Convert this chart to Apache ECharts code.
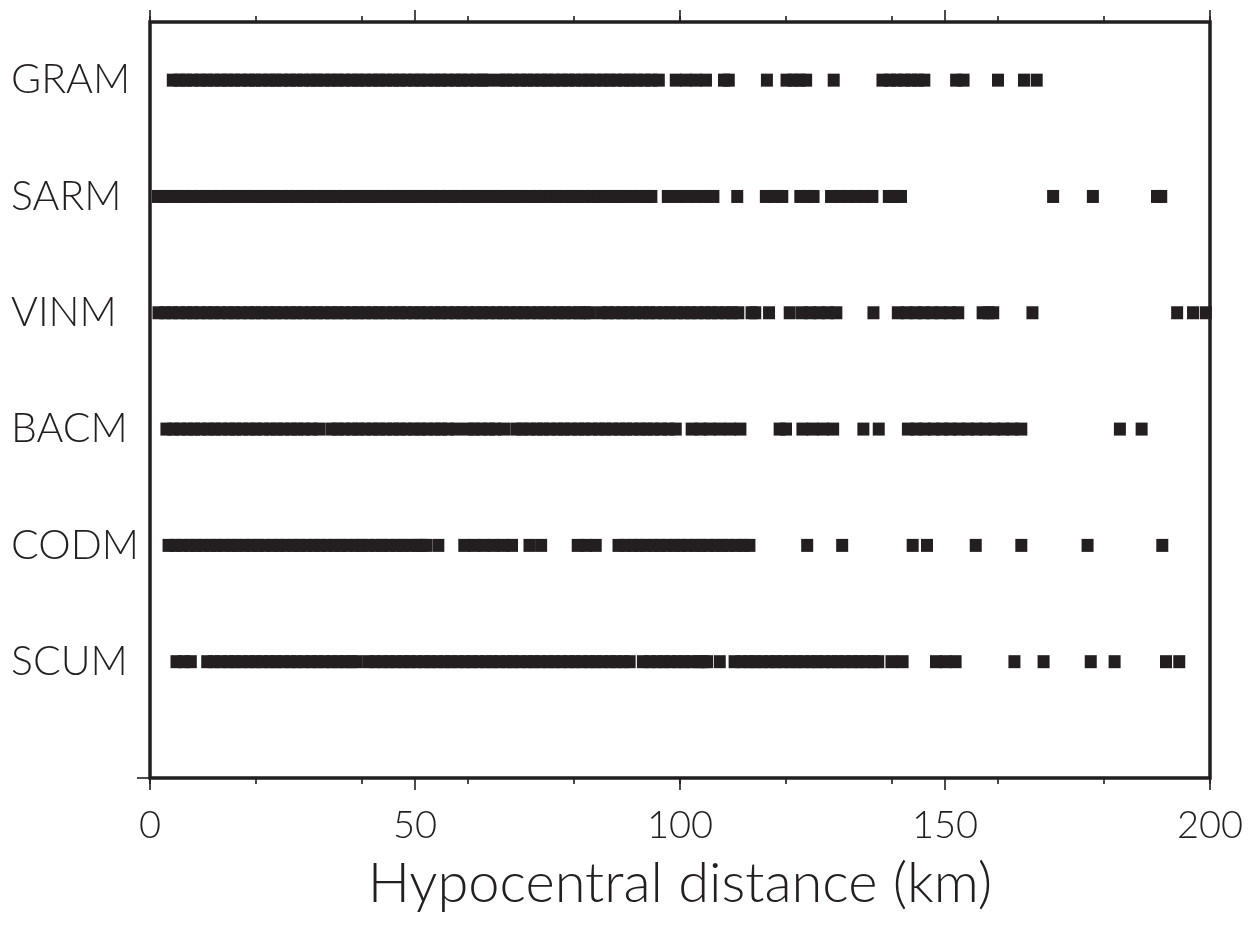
<!DOCTYPE html>
<html>
<head>
<meta charset="utf-8">
<title>Hypocentral distance by station</title>
<script src="https://cdn.jsdelivr.net/npm/echarts@6/dist/echarts.min.js"></script>
<style>
  html, body { margin: 0; padding: 0; background: #ffffff; }
  #chart { width: 1254px; height: 926px; }
</style>
</head>
<body>
<div id="chart"></div>
<script>
// Stations, listed top to bottom
const stations = ['GRAM', 'SARM', 'VINM', 'BACM', 'CODM', 'SCUM'];

// Hypocentral distances (km) of the recorded events, per station
const gramDist = [
  4.3, 5.6, 6.8, 8.1, 9.5, 10.7, 12.0, 13.4, 14.6, 15.9, 17.2, 18.6, 19.8, 21.1, 22.5, 23.7,
  25.0, 26.4, 27.6, 28.9, 30.3, 31.5, 32.8, 34.2, 35.4, 36.7, 38.1, 39.3, 40.6, 42.0, 43.2,
  44.5, 45.9, 47.1, 48.4, 49.8, 51.0, 52.3, 53.7, 54.9, 56.2, 57.6, 58.8, 60.1, 61.5, 62.7,
  63.8, 66.0, 67.2, 68.5, 69.9, 71.1, 72.4, 73.8, 75.0, 76.3, 77.7, 78.9, 80.2, 81.6, 82.8,
  84.1, 85.5, 86.7, 88.0, 89.4, 90.6, 91.9, 93.3, 94.6, 96.0,
  99.2, 101.1, 103.0, 104.9, 108.3, 109.2, 116.4, 120.1, 121.4, 122.6, 123.8, 129.0,
  138.2, 139.6, 140.9, 142.3, 143.6, 144.9, 146.1, 152.1, 153.5, 160.0, 164.9, 167.3
];
const sarmDist = [
  1.5, 2.7, 4.0, 5.4, 6.6, 7.9, 9.3, 10.5, 11.8, 13.2, 14.4, 15.7, 17.1, 18.3, 19.6, 21.0,
  22.2, 23.5, 24.9, 26.1, 27.4, 28.8, 30.0, 31.3, 32.7, 33.9, 35.2, 36.6, 37.8, 39.1, 40.5,
  41.7, 43.0, 44.4, 45.6, 46.9, 48.3, 49.5, 50.8, 52.2, 53.4, 54.7, 56.1, 57.3, 58.6, 60.0,
  61.2, 62.5, 63.9, 65.1, 66.4, 67.8, 69.0, 70.3, 71.7, 72.9, 74.2, 75.6, 76.8, 78.1, 79.5,
  80.7, 82.0, 83.4, 84.6, 85.9, 87.3, 88.5, 89.8, 91.2, 92.4, 93.6, 94.6,
  97.7, 99.5, 101.2, 103.0, 104.8, 106.3, 110.8, 116.2, 117.8, 119.3, 122.7, 124.0, 125.2,
  128.5, 130.1, 131.7, 133.2, 134.8, 136.3, 139.4, 140.6, 141.7, 170.4, 177.9, 190.0, 190.8
];
const vinmDist = [
  1.6, 2.9, 4.2, 5.5, 6.9, 8.1, 9.4, 10.8, 12.0, 13.3, 14.7, 15.9, 17.2, 18.6, 19.8, 21.1,
  22.5, 23.7, 25.0, 26.4, 27.6, 28.9, 30.3, 31.5, 32.8, 34.2, 35.4, 36.7, 38.1, 39.3, 40.6,
  42.0, 43.2, 44.5, 45.9, 47.1, 48.4, 49.8, 51.0, 52.3, 53.7, 54.9, 56.2, 57.6, 58.8, 60.1,
  61.5, 62.7, 64.0, 65.4, 66.6, 67.9, 69.3, 70.5, 71.8, 73.2, 74.4, 75.7, 77.1, 78.3, 79.6,
  81.0, 82.0, 83.0, 85.2, 86.4, 87.7, 89.1, 90.3, 91.6, 93.0, 94.2, 95.5, 96.9, 98.1, 99.4,
  100.8, 102.0, 103.3, 104.7, 105.9, 107.2, 108.6, 109.8, 111.0,
  113.5, 114.2, 116.8, 120.7, 123.0, 124.6, 126.2, 127.9, 129.5, 136.5,
  141.1, 142.8, 144.5, 146.0, 147.6, 149.2, 150.9, 152.5, 157.1, 158.2, 159.1, 166.5,
  193.8, 196.8, 199.2
];
const bacmDist = [
  3.1, 4.4, 5.7, 7.1, 8.3, 9.6, 11.0, 12.2, 13.5, 14.9, 16.1, 17.4, 18.8, 20.0, 21.3, 22.7,
  23.9, 25.2, 26.6, 27.8, 29.1, 30.5, 31.9, 34.2, 35.4, 36.7, 38.1, 39.3, 40.6, 42.0, 43.2,
  44.5, 45.9, 47.1, 48.4, 49.8, 51.0, 52.3, 53.7, 54.9, 56.2, 57.8, 60.0, 61.2, 62.5, 63.9,
  65.1, 66.8, 69.1, 70.3, 71.6, 73.0, 74.2, 75.5, 76.9, 78.1, 79.4, 80.8, 82.0, 83.3, 84.7,
  85.9, 87.2, 88.6, 89.8, 91.1, 92.5, 93.7, 95.0, 96.4, 97.8, 99.2,
  102.2, 103.9, 105.6, 107.5, 109.5, 111.4, 118.8, 120.0, 123.1, 125.0, 127.0, 128.9,
  134.6, 137.5, 143.0, 144.6, 146.2, 147.9, 149.5, 151.0, 152.6, 154.3, 156.0, 157.6,
  159.3, 161.0, 162.7, 164.4, 183.0, 187.1
];
const codmDist = [
  3.5, 4.8, 6.1, 7.5, 8.7, 10.0, 11.4, 12.6, 13.9, 15.3, 16.5, 17.8, 19.2, 20.4, 21.7, 23.1,
  24.3, 25.6, 27.0, 28.2, 29.5, 30.9, 32.1, 33.4, 34.8, 36.0, 37.3, 38.7, 39.9, 41.2, 42.6,
  43.8, 45.1, 46.5, 47.7, 49.0, 50.4, 51.3, 52.1,
  54.4, 59.3, 61.2, 63.0, 64.8, 66.6, 68.3, 71.6, 73.8, 80.7, 82.3, 84.1,
  88.4, 89.7, 91.1, 92.3, 93.6, 95.0, 96.2, 97.5, 98.9, 100.1, 101.4, 102.8, 104.0, 105.3,
  106.7, 107.9, 109.2, 110.6, 111.9, 113.1,
  124.0, 130.6, 143.9, 146.6, 155.8, 164.4, 176.9, 191.0
];
const scumDist = [
  5.0, 6.4, 7.7,
  10.8, 12.1, 13.4, 14.8, 16.0, 17.3, 18.7, 19.9, 21.2, 22.6, 23.8, 25.1, 26.5, 27.7, 29.0,
  30.4, 31.6, 32.9, 34.3, 35.5, 36.8, 37.9, 39.0, 41.2, 42.5, 43.9, 45.1, 46.4, 47.8, 49.0,
  50.3, 51.7, 52.9, 54.2, 55.6, 56.8, 58.1, 59.5, 60.7, 62.0, 63.4, 64.6, 65.9, 67.3, 68.5,
  69.8, 71.2, 72.4, 73.7, 75.1, 76.3, 77.6, 79.0, 80.2, 81.5, 82.9, 84.1, 85.4, 86.8, 88.0,
  89.3, 90.5,
  93.0, 94.3, 95.7, 96.9, 98.2, 99.6, 100.8, 102.1, 103.5, 104.3, 105.1, 107.5,
  110.3, 111.6, 113.0, 114.2, 115.5, 116.9, 118.1, 119.4, 120.8, 122.0, 123.3, 124.7, 125.9,
  127.2, 128.6, 129.8, 131.1, 132.5, 133.7, 135.0, 136.4, 137.4,
  139.9, 142.0, 148.3, 150.1, 152.0, 163.1, 168.6, 177.5, 182.0, 191.7, 194.2
];

// Axis ticks and labels
const xMajorTicks = [0, 50, 100, 150, 200];
const xMinorStep = 20;
const rowLevels = [1, 2, 3, 4, 5, 6];

const distances = {
  GRAM: gramDist, SARM: sarmDist, VINM: vinmDist,
  BACM: bacmDist, CODM: codmDist, SCUM: scumDist
};

const INK = '#231f20';
const FONT = 'Lato, "Liberation Sans", sans-serif';
const WEIGHT = 300;

// Station on row level n (bottom row is 1)
function stationAt(level) {
  return stations[stations.length - level];
}

const series = stations.map((name, i) => ({
  type: 'scatter',
  name: name,
  xAxisIndex: 0,
  yAxisIndex: 0,
  symbol: 'rect',
  symbolSize: [12, 13],
  itemStyle: { color: INK, opacity: 1 },
  emphasis: { disabled: true },
  silent: true,
  data: distances[name].map(d => [d, stations.length - i])
}));

function xAxisDef(position, step, tickLen, withLabels) {
  const ax = {
    type: 'value',
    position: position,
    min: xMajorTicks[0],
    max: xMajorTicks[xMajorTicks.length - 1],
    interval: step,
    axisLine: { show: false },
    splitLine: { show: false },
    axisTick: { show: true, length: tickLen, lineStyle: { color: INK, width: 1.6 } },
    axisLabel: { show: false }
  };
  if (withLabels) {
    ax.axisLabel = {
      show: true,
      margin: 29,
      color: INK,
      fontFamily: FONT,
      fontWeight: WEIGHT,
      fontSize: 38
    };
    ax.name = 'Hypocentral distance (km)';
    ax.nameLocation = 'middle';
    ax.nameGap = 78;
    ax.nameTextStyle = { color: INK, fontFamily: FONT, fontWeight: WEIGHT, fontSize: 56 };
  }
  return ax;
}

const chart = echarts.init(document.getElementById('chart'), null, { renderer: 'canvas' });

chart.setOption({
  animation: false,
  backgroundColor: '#ffffff',
  grid: {
    left: 150, right: 44, top: 22, bottom: 148,
    show: true,
    borderColor: INK,
    borderWidth: 3.5,
    backgroundColor: 'transparent'
  },
  xAxis: [
    xAxisDef('bottom', 50, 12, true),
    xAxisDef('bottom', xMinorStep, 6, false),
    xAxisDef('top', 50, 12, false),
    xAxisDef('top', xMinorStep, 6, false)
  ],
  yAxis: {
    type: 'value',
    min: 0,
    max: 6.5,
    axisLine: { show: false },
    splitLine: { show: false },
    axisTick: {
      show: true,
      customValues: [0],
      length: 13,
      lineStyle: { color: INK, width: 1.6 }
    },
    axisLabel: {
      show: true,
      customValues: rowLevels,
      formatter: v => stationAt(v),
      align: 'left',
      margin: 139,
      color: INK,
      fontFamily: FONT,
      fontWeight: WEIGHT,
      fontSize: 41,
      padding: [0, 0, 10, 0]
    }
  },
  series: series
});
</script>
</body>
</html>
